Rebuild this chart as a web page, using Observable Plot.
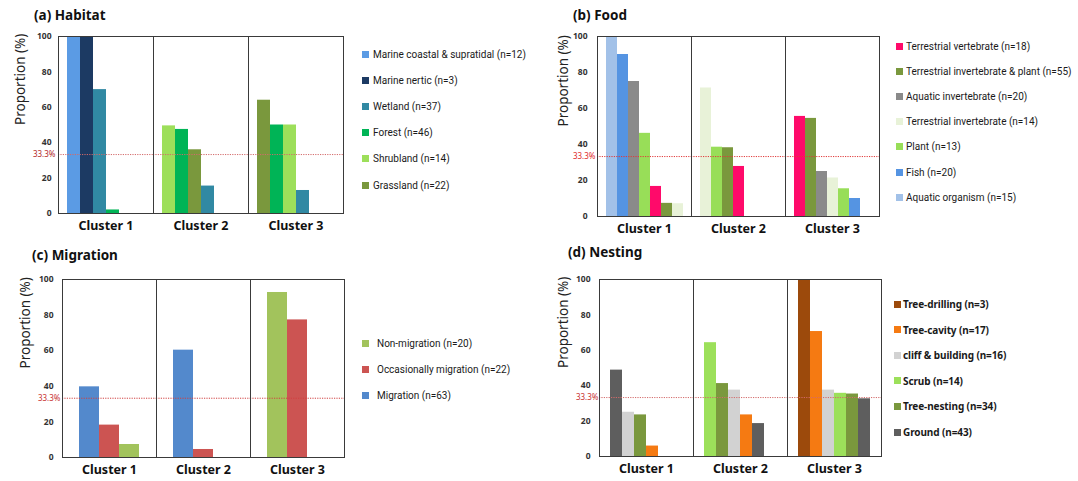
<!DOCTYPE html>
<html><head><meta charset="utf-8">
<script src="https://cdn.jsdelivr.net/npm/d3@7"></script>
<script src="https://cdn.jsdelivr.net/npm/@observablehq/plot@0.6"></script>
<style>
body{margin:0;background:#fff;font-family:"Noto Sans",sans-serif;}
#root{position:relative;width:1078px;height:481px;overflow:hidden;background:#fff;}
.title{position:absolute;font-weight:700;font-size:13.5px;color:#111;line-height:18px;white-space:nowrap;}
.panel{position:absolute;}
.legend{position:absolute;font-family:Roboto,"Noto Sans",sans-serif;font-size:10px;color:#1a1a1a;}
.legend.bold{font-weight:700;font-family:"Noto Sans",sans-serif;letter-spacing:-0.1px;}
.item{position:absolute;left:0;white-space:nowrap;display:flex;align-items:center;height:14px;}
.sw{width:7px;height:7px;flex:none;}
</style></head><body><div id="root"></div>
<script>
// ---------- data ----------
const clusters = ["Cluster 1", "Cluster 2", "Cluster 3"];
const yTicks = [0, 20, 40, 60, 80, 100];
const threshold = 33.3;
const thresholdLabel = "33.3%";
const yLabel = "Proportion (%)";

// (a) Habitat
const habitatKeys = ["Marine coastal & supratidal", "Marine nertic", "Wetland", "Forest", "Shrubland", "Grassland"];
const habitatN = [12, 3, 37, 46, 14, 22];
const habitatColors = ["#5b9be4", "#1c3a63", "#3189a3", "#00b456", "#9ddf5a", "#7a983d"];
const habitatOrder = [
  ["Marine coastal & supratidal", "Marine nertic", "Wetland", "Forest"],
  ["Shrubland", "Forest", "Grassland", "Wetland"],
  ["Grassland", "Forest", "Shrubland", "Wetland"]
];
const habitatValues = [
  [100, 100, 70, 2],
  [49.5, 47.5, 36, 15.5],
  [64, 50, 50, 13]
];

// (b) Food
const foodKeys = ["Terrestrial vertebrate", "Terrestrial invertebrate & plant", "Aquatic invertebrate", "Terrestrial invertebrate", "Plant", "Fish", "Aquatic organism"];
const foodN = [18, 55, 20, 14, 13, 20, 15];
const foodColors = ["#ff0a6a", "#7a983d", "#8a8a8a", "#e8f2d8", "#98de58", "#5594e2", "#a2c1e8"];
const foodOrder = [
  ["Aquatic organism", "Fish", "Aquatic invertebrate", "Plant", "Terrestrial vertebrate", "Terrestrial invertebrate & plant", "Terrestrial invertebrate"],
  ["Terrestrial invertebrate", "Plant", "Terrestrial invertebrate & plant", "Terrestrial vertebrate"],
  ["Terrestrial vertebrate", "Terrestrial invertebrate & plant", "Aquatic invertebrate", "Terrestrial invertebrate", "Plant", "Fish"]
];
const foodValues = [
  [100, 90, 75, 46.2, 16.7, 7.3, 7.1],
  [71.4, 38.5, 38.2, 27.8],
  [55.6, 54.5, 25, 21.4, 15.4, 10]
];

// (c) Migration
const migrationKeys = ["Non-migration", "Occasionally migration", "Migration"];
const migrationN = [20, 22, 63];
const migrationColors = ["#a2c35c", "#cc5452", "#5389cc"];
const migrationOrder = [
  ["Migration", "Occasionally migration", "Non-migration"],
  ["Migration", "Occasionally migration"],
  ["Non-migration", "Occasionally migration"]
];
const migrationValues = [
  [39.7, 18.2, 7.3],
  [60.3, 4.5],
  [92.7, 77.3]
];

// (d) Nesting
const nestingKeys = ["Tree-drilling", "Tree-cavity", "cliff & building", "Scrub", "Tree-nesting", "Ground"];
const nestingN = [3, 17, 16, 14, 34, 43];
const nestingColors = ["#9c4a0c", "#f57a12", "#d2d2d2", "#9ce05a", "#7a983d", "#5e5e5e"];
const nestingOrder = [
  ["Ground", "cliff & building", "Tree-nesting", "Tree-cavity"],
  ["Scrub", "Tree-nesting", "cliff & building", "Tree-cavity", "Ground"],
  ["Tree-drilling", "Tree-cavity", "cliff & building", "Scrub", "Tree-nesting", "Ground"]
];
const nestingValues = [
  [48.8, 25, 23.5, 5.9],
  [64.3, 41.2, 37.5, 23.5, 18.6],
  [100, 70.6, 37.5, 35.7, 35.3, 32.6]
];

// ---------- drawing ----------
const root = document.getElementById("root");

function panel(cfg) {
  const data = cfg.order.flatMap((names, ci) =>
    names.map((key, j) => ({cluster: clusters[ci], slot: j, key, value: cfg.values[ci][j]})));
  const svg = Plot.plot({
    width: cfg.width, height: cfg.height,
    marginLeft: cfg.m[0], marginRight: cfg.m[1], marginTop: cfg.m[2], marginBottom: cfg.m[3],
    style: {fontFamily: "'Noto Sans', sans-serif", background: "transparent", overflow: "visible", color: "#222"},
    fx: {domain: clusters, padding: 0, label: null},
    x: {domain: d3.range(cfg.keys.length), paddingInner: 0, paddingOuter: cfg.po, axis: null},
    y: {domain: [0, 100], axis: null},
    color: {domain: cfg.keys, range: cfg.colors},
    marks: [
      Plot.barY(data, {fx: "cluster", x: "slot", y: "value", fill: "key", inset: 0}),
      Plot.ruleY([threshold], {stroke: cfg.ruleColor, strokeWidth: 1, strokeDasharray: "1.2,1.2"}),
      Plot.frame({stroke: "#3a3a3a", strokeWidth: 1}),
      Plot.axisY({ticks: yTicks, tickSize: 0, tickPadding: cfg.tickPad, fontSize: 8.5, fontWeight: "bold", fill: "#333", label: null}),
      Plot.axisFx({anchor: "bottom", tickSize: 0, tickPadding: 8, fontSize: 12.5, fontWeight: "bold", fill: "#111", label: null}),
      Plot.text([threshold], {fx: () => clusters[0], y: d => d, text: () => thresholdLabel,
        frameAnchor: "left", textAnchor: "end", dx: cfg.thDx, fill: cfg.labelColor, fontSize: 8}),
      Plot.text([yLabel], {fx: () => clusters[0], text: d => d, frameAnchor: "left", rotate: -90,
        dx: cfg.yLabDx, fontSize: 13.5, fill: "#222"})
    ]
  });
  const wrap = document.createElement("div");
  wrap.className = "panel";
  wrap.style.left = cfg.left + "px";
  wrap.style.top = cfg.top + "px";
  wrap.append(svg);
  root.append(wrap);

  const t = document.createElement("div");
  t.className = "title";
  t.textContent = cfg.title;
  t.style.left = cfg.titleX + "px";
  t.style.top = (cfg.titleY - 9) + "px";
  root.append(t);

  const lg = document.createElement("div");
  lg.className = "legend" + (cfg.boldLegend ? " bold" : "");
  lg.style.left = cfg.legX + "px";
  lg.style.top = "0px";
  cfg.keys.forEach((k, i) => {
    const it = document.createElement("div");
    it.className = "item";
    it.style.top = (cfg.legY0 + i * cfg.legStep - 7) + "px";
    const sw = document.createElement("span");
    sw.className = "sw";
    sw.style.background = cfg.colors[i];
    sw.style.marginRight = cfg.legGap + "px";
    const tx = document.createElement("span");
    tx.textContent = `${k} (n=${cfg.n[i]})`;
    it.append(sw, tx);
    lg.append(it);
  });
  root.append(lg);
}

panel({title: "(a) Habitat", titleX: 34, titleY: 15,
  left: 0, top: 0, width: 350, height: 240, m: [58, 7, 36, 27], po: 0.65,
  keys: habitatKeys, n: habitatN, colors: habitatColors, order: habitatOrder, values: habitatValues,
  tickPad: 7, thDx: -3, yLabDx: -38, ruleColor: "#d36a6a", labelColor: "#b42828",
  legX: 362, legY0: 54, legStep: 26.2, legGap: 4});

panel({title: "(b) Food", titleX: 573, titleY: 15,
  left: 540, top: 0, width: 345, height: 240, m: [56, 5, 36, 24], po: 0.55,
  keys: foodKeys, n: foodN, colors: foodColors, order: foodOrder, values: foodValues,
  tickPad: 10, thDx: -2, yLabDx: -34, ruleColor: "#e03a3a", labelColor: "#e02a2a",
  legX: 896, legY0: 46, legStep: 25.2, legGap: 3});

panel({title: "(c) Migration", titleX: 32, titleY: 255,
  left: 0, top: 240, width: 350, height: 241, m: [61, 5, 39, 24], po: 0.75,
  keys: migrationKeys, n: migrationN, colors: migrationColors, order: migrationOrder, values: migrationValues,
  tickPad: 9, thDx: -2, yLabDx: -37, ruleColor: "#d04040", labelColor: "#c83030",
  legX: 362, legY0: 343, legStep: 26, legGap: 8});

panel({title: "(d) Nesting", titleX: 568, titleY: 252,
  left: 540, top: 240, width: 347, height: 241, m: [58, 5, 39, 25], po: 0.76,
  keys: nestingKeys, n: nestingN, colors: nestingColors, order: nestingOrder, values: nestingValues,
  tickPad: 9, thDx: -1, yLabDx: -36, ruleColor: "#d36a6a", labelColor: "#c83030",
  legX: 894, legY0: 304, legStep: 25.6, legGap: 2, boldLegend: true});
</script>
</body></html>
